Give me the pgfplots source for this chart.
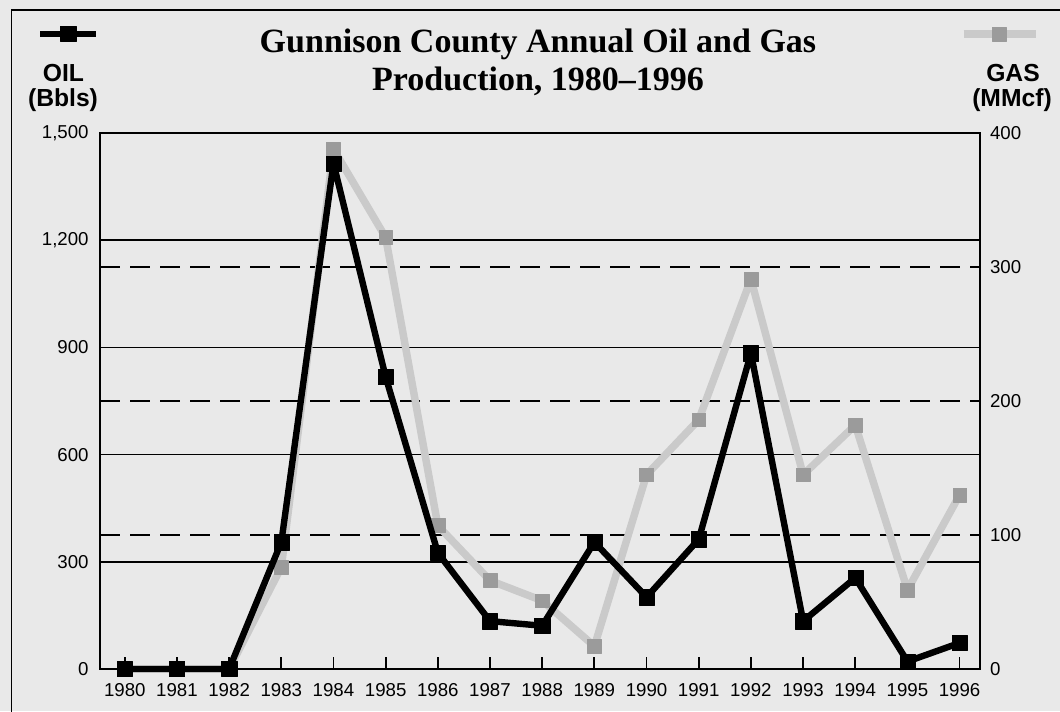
\documentclass[border=0pt]{standalone}
\usepackage{fontspec}
\setmainfont{Liberation Sans}
\newfontfamily\titlefont{Liberation Serif}
\usepackage{pgfplots}
\pgfplotsset{compat=1.18}
\definecolor{paper}{RGB}{233,233,233}
\definecolor{gasline}{RGB}{202,202,202}
\definecolor{gasmark}{RGB}{155,155,155}

\pgfplotsset{
  base/.style={
      scale only axis,
      width=660pt, height=402pt,
      at={(75pt,31.5pt)}, anchor=south west,
      xmin=1979.525, xmax=1996.39,
      clip=false,
      tick label style={font=\fontsize{14}{16}\selectfont},
      /pgf/number format/assume math mode=true,
      legend style={draw=none, fill=none, inner sep=0pt, outer sep=0pt,
          nodes={inner sep=0pt}},
    },
}

\begin{document}
\begin{tikzpicture}
  \begin{scope}[x=0.75pt, y=0.75pt]
    \path[use as bounding box, fill=paper] (0,0) rectangle (1060,711);
    \draw[line width=1.4pt] (11.5,-10) -- (11.5,701) -- (1070,701);

    % title and axis captions
    \node[anchor=base, font=\titlefont\bfseries\fontsize{25.5}{28}\selectfont]
    at (538,658) {Gunnison County Annual Oil and Gas};
    \node[anchor=base, font=\titlefont\bfseries\fontsize{25.5}{28}\selectfont]
    at (538,620) {Production, 1980–1996};
    \node[anchor=base, font=\bfseries\fontsize{18.5}{20}\selectfont] at (63.5,629) {OIL};
    \node[anchor=base, font=\bfseries\fontsize{18.5}{20}\selectfont] at (63,604) {(Bbls)};
    \node[anchor=base, font=\bfseries\fontsize{18.5}{20}\selectfont] at (1013,629) {GAS};
    \node[anchor=base, font=\bfseries\fontsize{18.5}{20}\selectfont] at (1012,604) {(MMcf)};
  \end{scope}

  % solid oil grid only, underneath everything
  \begin{axis}[
      base,
      ymin=0, ymax=1500,
      ytick={0,300,...,1500}, xtick=\empty,
      yticklabels={},
      major tick length=0pt,
      axis line style={draw=none},
      ymajorgrids,
      grid style={black, line width=1.3pt},
    ]
  \end{axis}

  % gas, right scale
  \begin{axis}[
      base,
      ymin=0, ymax=400,
      xtick=\empty,
      ytick={0,100,...,400},
      yticklabel pos=right,
      major tick length=0pt,
      axis line style={draw=none},
      yticklabel style={xshift=4pt},
      ymajorgrids,
      grid style={black, line width=1.5pt, dash pattern=on 15pt off 7.5pt},
      legend style={at={(0.977,1.1847)}, anchor=west},
      legend image code/.code={
          \draw[mark repeat=2, mark phase=2]
          plot coordinates {(0pt,0pt) (27pt,0pt) (54pt,0pt)};
        },
    ]
    \addplot[gasline, line width=5.6pt, line join=round,
      mark=square*, mark size=5.2pt,
      mark options={fill=gasmark, draw=gasmark, line width=0.3pt}]
    coordinates {
        (1980,0) (1981,0) (1982,0) (1983,76) (1984,388) (1985,322)
        (1986,107) (1987,66) (1988,51) (1989,17) (1990,145) (1991,186)
        (1992,291) (1993,145) (1994,182) (1995,59) (1996,130)
      };
    \addlegendentry{}
  \end{axis}

  % oil, left scale, frame and year ticks
  \begin{axis}[
      base,
      ymin=0, ymax=1500,
      ytick={0,300,...,1500},
      xtick={1980,...,1996},
      xtick pos=bottom, ytick pos=left,
      tick align=inside,
      major tick length=9pt,
      xtick style={black, line width=1.3pt},
      ytick style={draw=none},
      xticklabel style={/pgf/number format/1000 sep={}, yshift=-7pt},
      yticklabel style={xshift=-5pt},
      axis line style={line width=1.5pt},
      legend style={at={(-0.0716,1.1847)}, anchor=west},
      legend image code/.code={
          \draw[mark repeat=2, mark phase=2]
          plot coordinates {(0pt,0pt) (21pt,0pt) (42pt,0pt)};
        },
    ]
    \addplot[black, line width=4.8pt, line join=round,
      mark=square*, mark size=5.7pt,
      mark options={solid, line width=0.3pt}]
    coordinates {
        (1980,0) (1981,0) (1982,0) (1983,355) (1984,1415) (1985,817)
        (1986,325) (1987,134) (1988,121) (1989,355) (1990,201) (1991,363)
        (1992,884) (1993,134) (1994,255) (1995,21) (1996,73)
      };
    \addlegendentry{}
  \end{axis}
\end{tikzpicture}
\end{document}
